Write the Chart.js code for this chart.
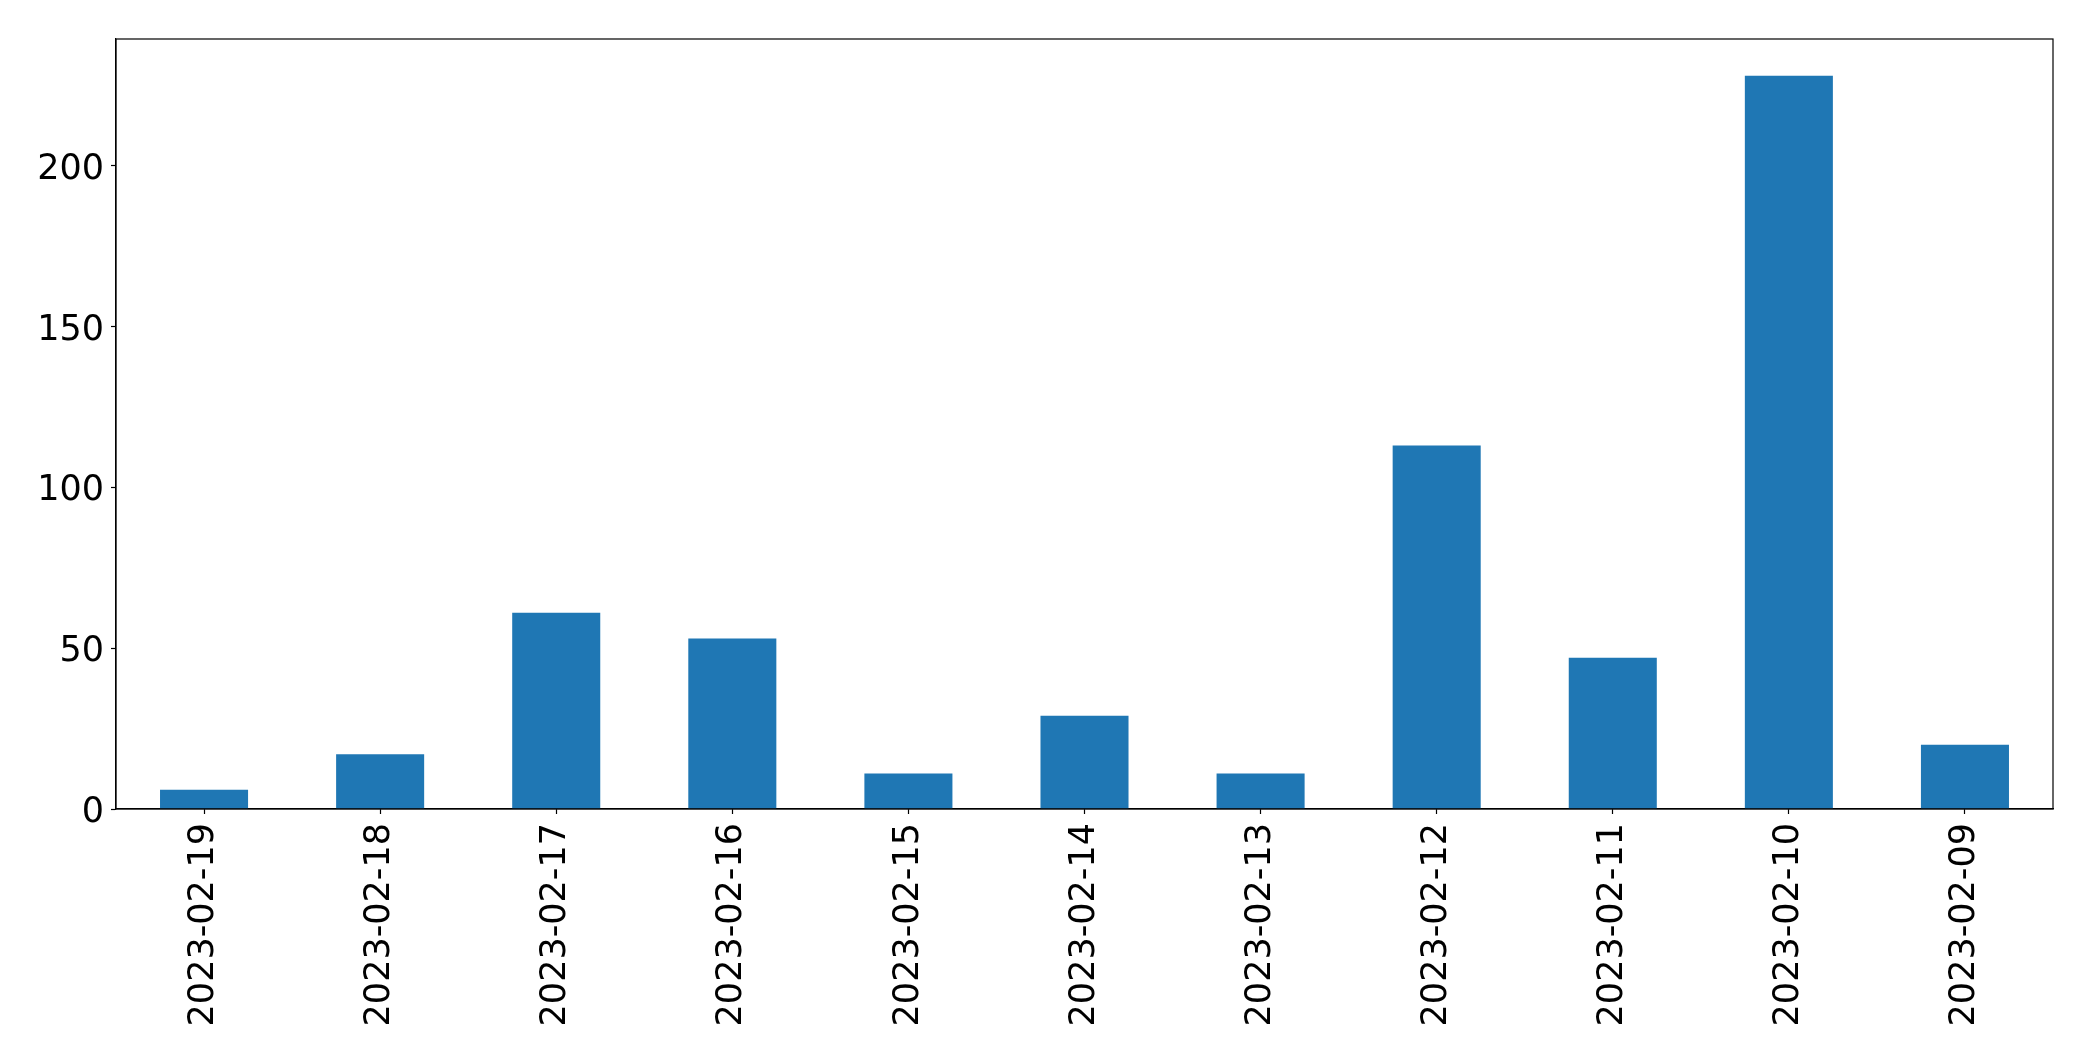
<!DOCTYPE html>
<html>
<head>
<meta charset="utf-8">
<script src="https://cdn.jsdelivr.net/npm/chart.js@4"></script>
<style>
  html, body { margin: 0; padding: 0; background: #fff; }
  canvas { display: block; }
</style>
</head>
<body>
<canvas id="barChart" width="2093" height="1061"></canvas>
<script>
// values
const dates = ["2023-02-19", "2023-02-18", "2023-02-17", "2023-02-16", "2023-02-15", "2023-02-14",
               "2023-02-13", "2023-02-12", "2023-02-11", "2023-02-10", "2023-02-09"];
const counts = [6, 17, 61, 53, 11, 29, 11, 113, 47, 228, 20];
const yTicks = [0, 50, 100, 150, 200];

const font = { family: "'DejaVu Sans'", size: 35 };

// matplotlib style box around the plot
const frame = {
  id: 'frame',
  afterDraw(chart) {
    const a = chart.chartArea;
    const c = chart.ctx;
    c.save();
    c.strokeStyle = '#000';
    c.lineWidth = 1.2;
    c.strokeRect(a.left, a.top, a.right - a.left, a.bottom - a.top);
    c.restore();
  }
};

const ctx = document.getElementById('barChart').getContext('2d');
new Chart(ctx, {
  type: 'bar',
  data: {
    labels: dates,
    datasets: [{
      data: counts,
      backgroundColor: '#1f77b4',
      borderWidth: 0,
      barPercentage: 0.5,
      categoryPercentage: 1.0
    }]
  },
  options: {
    responsive: false,
    animation: false,
    layout: { padding: { top: 39, right: 40, left: 0, bottom: 0 } },
    plugins: { legend: { display: false }, tooltip: { enabled: false } },
    scales: {
      x: {
        offset: true,
        grid: { offset: false, drawOnChartArea: false, tickLength: 5, tickColor: '#000', tickWidth: 1.2 },
        border: { color: '#000', width: 1.2 },
        ticks: { color: '#000', font: font, minRotation: 90, maxRotation: 90, padding: 9, autoSkip: false },
        afterFit(scale) { scale.height = 252; }
      },
      y: {
        min: 0,
        max: 239.4,
        grid: { drawOnChartArea: false, tickLength: 5, tickColor: '#000', tickWidth: 1.2 },
        border: { color: '#000', width: 1.2 },
        afterBuildTicks(scale) { scale.ticks = yTicks.map(v => ({ value: v })); },
        ticks: { color: '#000', font: font, padding: 7, labelOffset: 4 },
        afterFit(scale) { scale.width = 116; }
      }
    }
  },
  plugins: [frame]
});
</script>
</body>
</html>
